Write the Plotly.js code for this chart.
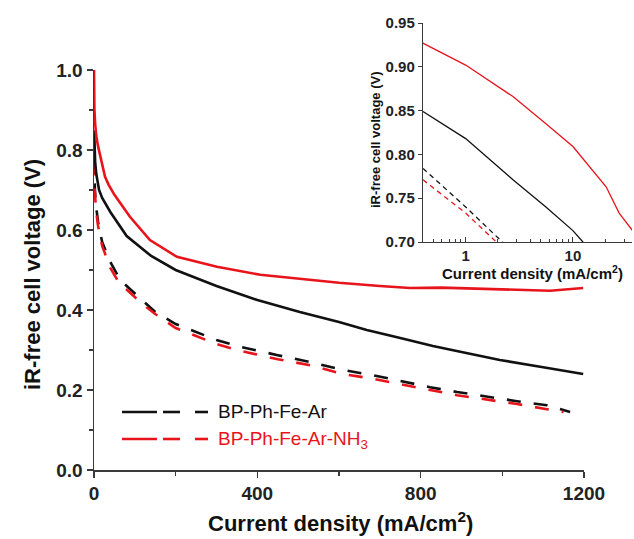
<!DOCTYPE html>
<html>
<head>
<meta charset="utf-8">
<script src="https://cdn.plot.ly/plotly-3.0.1.min.js"></script>
<style>html,body{margin:0;padding:0;background:#fff;}#chart{width:634px;height:539px;}</style>
</head>
<body>
<div id="chart"></div>
<script>
// ---- data (current density in mA/cm2, iR-free voltage in V) ----
const arSolidX = [0.4, 1, 2.76, 5.6, 10, 12.4, 20, 40, 80, 140, 200, 300, 400, 504, 600, 668, 750, 830, 900, 994, 1100, 1198];
const arSolidY = [0.849, 0.818, 0.771, 0.740, 0.713, 0.700, 0.680, 0.645, 0.585, 0.535, 0.500, 0.460, 0.425, 0.395, 0.370, 0.350, 0.330, 0.310, 0.295, 0.275, 0.257, 0.240];

const nh3SolidX = [0, 0.4, 1, 2.76, 5.6, 10, 20.4, 27, 36, 50, 88, 137, 203, 301, 407, 504, 600, 700, 774, 850, 962, 1050, 1117, 1198];
const nh3SolidY = [1.0, 0.927, 0.902, 0.866, 0.835, 0.809, 0.763, 0.733, 0.713, 0.688, 0.633, 0.575, 0.533, 0.508, 0.488, 0.477, 0.468, 0.460, 0.455, 0.456, 0.452, 0.450, 0.448, 0.455];

const arDashX = [0.4, 1, 2.2, 5, 10, 20, 40, 64, 80, 113, 150, 200, 250, 300, 350, 400, 450, 529, 610, 683, 749, 823, 889, 962, 1036, 1109, 1166];
const arDashY = [0.784, 0.740, 0.700, 0.660, 0.620, 0.570, 0.520, 0.475, 0.460, 0.430, 0.395, 0.365, 0.345, 0.325, 0.310, 0.298, 0.287, 0.270, 0.250, 0.237, 0.222, 0.207, 0.195, 0.183, 0.172, 0.162, 0.145];

const nh3DashX = [0.4, 1, 1.93, 5, 10, 20, 40, 60, 81, 113, 150, 200, 250, 300, 350, 400, 450, 529, 610, 683, 749, 823, 889, 962, 1036, 1109, 1150];
const nh3DashY = [0.771, 0.733, 0.700, 0.650, 0.610, 0.560, 0.505, 0.470, 0.450, 0.420, 0.390, 0.355, 0.335, 0.315, 0.300, 0.288, 0.277, 0.262, 0.240, 0.228, 0.214, 0.200, 0.187, 0.176, 0.165, 0.152, 0.145];

const seriesNames = ['BP-Ph-Fe-Ar', 'BP-Ph-Fe-Ar-NH<sub>3</sub>'];
const mainXTicks = [0, 400, 800, 1200];
const mainYTicks = [0.0, 0.2, 0.4, 0.6, 0.8, 1.0];
const insetXTicks = [1, 10];
const insetYTicks = [0.70, 0.75, 0.80, 0.85, 0.90, 0.95];

// ---- layout helpers (pixel -> paper) ----
const W = 634, H = 539;
const px = x => x / W;
const py = y => 1 - y / H;

const BLACK = '#111111';
const RED = '#e8141c';
const FONT = 'Arial, "Liberation Sans", sans-serif';
const AXC = '#3a3a3a';

function tr(x, y, color, dash, width, xa, ya) {
  return {x: x, y: y, type: 'scatter', mode: 'lines', xaxis: xa, yaxis: ya,
    line: {color: color, width: width, dash: dash}, hoverinfo: 'skip', showlegend: false};
}

const mainDash = '14px,13px';
const insetDash = '5px,4px';
const data = [
  tr(arDashX, arDashY, BLACK, mainDash, 2.6, 'x', 'y'),
  tr(nh3DashX, nh3DashY, RED, mainDash, 2.6, 'x', 'y'),
  tr(arSolidX, arSolidY, BLACK, 'solid', 2.6, 'x', 'y'),
  tr(nh3SolidX, nh3SolidY, RED, 'solid', 2.6, 'x', 'y'),
  tr(arDashX, arDashY, BLACK, insetDash, 1.3, 'x2', 'y2'),
  tr(nh3DashX, nh3DashY, RED, insetDash, 1.3, 'x2', 'y2'),
  tr(arSolidX, arSolidY, BLACK, 'solid', 1.3, 'x2', 'y2'),
  tr(nh3SolidX, nh3SolidY, RED, 'solid', 1.3, 'x2', 'y2')
];

const tickFontMain = {family: FONT, size: 19, color: '#222', weight: 'bold'};
const tickFontInset = {family: FONT, size: 15, color: '#222', weight: 'bold'};

const layout = {
  width: W, height: H,
  margin: {l: 0, r: 0, t: 0, b: 0},
  paper_bgcolor: '#fff', plot_bgcolor: 'rgba(0,0,0,0)',
  showlegend: false,
  xaxis: {
    domain: [px(94), px(584)], range: [0, 1200], anchor: 'y',
    tickvals: mainXTicks, ticks: 'outside', ticklen: 6, tickwidth: 1.3, tickcolor: AXC,
    minor: {tickvals: [200, 600, 1000], ticks: 'outside', ticklen: 4, tickwidth: 1.2, tickcolor: AXC, showgrid: false},
    showline: true, linecolor: AXC, linewidth: 1.5, showgrid: false, zeroline: false,
    tickfont: tickFontMain, automargin: false
  },
  yaxis: {
    domain: [py(470), py(70)], range: [0, 1], anchor: 'x',
    tickvals: mainYTicks, tickformat: '.1f', ticks: 'outside', ticklen: 6, tickwidth: 1.3, tickcolor: AXC,
    minor: {tickvals: [0.1, 0.3, 0.5, 0.7, 0.9], ticks: 'outside', ticklen: 4, tickwidth: 1.2, tickcolor: AXC, showgrid: false},
    showline: true, linecolor: AXC, linewidth: 1.5, showgrid: false, zeroline: false,
    tickfont: tickFontMain, automargin: false
  },
  xaxis2: {
    domain: [px(423), px(632)], type: 'log', range: [Math.log10(0.4), 1.551], anchor: 'y2',
    tickvals: insetXTicks, ticktext: ['1', '10'], ticks: 'inside', ticklen: 5, tickwidth: 1, tickcolor: AXC,
    minor: {tickvals: [0.5, 0.6, 0.7, 0.8, 0.9, 2, 3, 4, 5, 6, 7, 8, 9, 20, 30], ticks: 'inside', ticklen: 3, tickwidth: 1, tickcolor: AXC, showgrid: false},
    showline: true, linecolor: AXC, linewidth: 1.2, showgrid: false, zeroline: false,
    tickfont: tickFontInset, automargin: false
  },
  yaxis2: {
    domain: [py(242), py(23)], range: [0.70, 0.95], anchor: 'x2',
    tickvals: insetYTicks, tickformat: '.2f', ticks: 'outside', ticklen: 4, tickwidth: 1, tickcolor: AXC,
    showline: true, linecolor: AXC, linewidth: 1.2, showgrid: false, zeroline: false,
    tickfont: tickFontInset, automargin: false
  },
  shapes: [
    {type: 'line', xref: 'paper', yref: 'paper', x0: px(122), x1: px(157), y0: py(412), y1: py(412), line: {color: BLACK, width: 2.6}},
    {type: 'line', xref: 'paper', yref: 'paper', x0: px(163), x1: px(180), y0: py(412), y1: py(412), line: {color: BLACK, width: 2.6}},
    {type: 'line', xref: 'paper', yref: 'paper', x0: px(195), x1: px(208), y0: py(412), y1: py(412), line: {color: BLACK, width: 2.6}},
    {type: 'line', xref: 'paper', yref: 'paper', x0: px(122), x1: px(157), y0: py(439), y1: py(439), line: {color: RED, width: 2.6}},
    {type: 'line', xref: 'paper', yref: 'paper', x0: px(163), x1: px(180), y0: py(439), y1: py(439), line: {color: RED, width: 2.6}},
    {type: 'line', xref: 'paper', yref: 'paper', x0: px(195), x1: px(208), y0: py(439), y1: py(439), line: {color: RED, width: 2.6}}
  ],
  annotations: [
    {text: seriesNames[0], xref: 'paper', yref: 'paper', x: px(216), y: py(411), xanchor: 'left', yanchor: 'middle', showarrow: false, font: {family: FONT, size: 19, color: BLACK}},
    {text: seriesNames[1], xref: 'paper', yref: 'paper', x: px(216), y: py(440), xanchor: 'left', yanchor: 'middle', showarrow: false, font: {family: FONT, size: 19, color: RED}},
    {text: '<b>Current density (mA/cm<sup>2</sup>)</b>', xref: 'paper', yref: 'paper', x: px(340), y: py(522), xanchor: 'center', yanchor: 'middle', showarrow: false, font: {family: FONT, size: 22, color: '#111'}},
    {text: '<b>iR-free cell voltage (V)</b>', xref: 'paper', yref: 'paper', x: px(32), y: py(275), xanchor: 'center', yanchor: 'middle', textangle: -90, showarrow: false, font: {family: FONT, size: 22, color: '#111'}},
    {text: '<b>Current density (mA/cm<sup>2</sup>)</b>', xref: 'paper', yref: 'paper', x: px(532), y: py(273), xanchor: 'center', yanchor: 'middle', showarrow: false, font: {family: FONT, size: 15, color: '#111'}},
    {text: '<b>iR-free cell voltage (V)</b>', xref: 'paper', yref: 'paper', x: px(375), y: py(140), xanchor: 'center', yanchor: 'middle', textangle: -90, showarrow: false, font: {family: FONT, size: 13, color: '#111'}}
  ]
};

Plotly.newPlot('chart', data, layout, {staticPlot: true, displayModeBar: false});
</script>
</body>
</html>
